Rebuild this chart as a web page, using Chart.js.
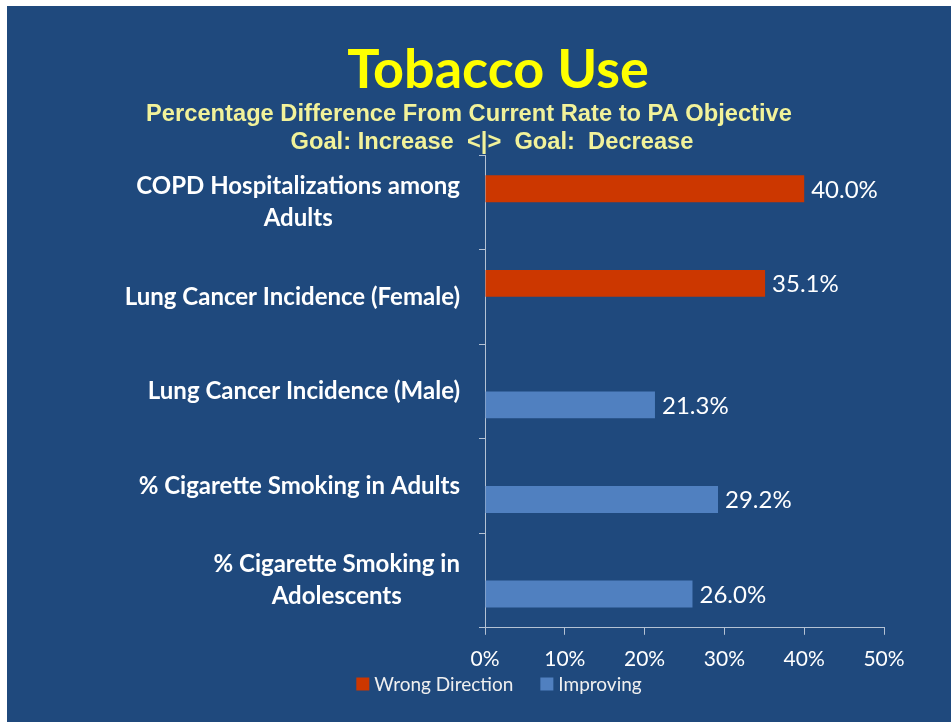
<!DOCTYPE html>
<html>
<head>
<meta charset="utf-8">
<script src="https://cdn.jsdelivr.net/npm/chart.js@4"></script>
<style>
  html, body { margin: 0; padding: 0; background: #fff; }
  #wrap { position: absolute; left: 7px; top: 6px; width: 944px; height: 716px; }
</style>
</head>
<body>
<div id="wrap"><canvas id="tobacco"></canvas></div>
<script>
// kategorier och värden
const categories = [
  ['COPD Hospitalizations among', 'Adults'],
  'Lung Cancer Incidence (Female)',
  'Lung Cancer Incidence (Male)',
  '% Cigarette Smoking in Adults',
  ['% Cigarette Smoking in', 'Adolescents']
];
const wrongDirection = [40.0, 35.1, null, null, null];
const improving = [null, null, 21.3, 29.2, 26.0];
const xMin = 0, xMax = 50, xStep = 10;

const titleText = 'Tobacco Use';
const subtitleLines = [
  'Percentage Difference From Current Rate to PA Objective',
  'Goal: Increase  <|>  Goal:  Decrease'
];

const bg = '#1F497D';
const axisColor = '#B4C2D4';

// bakgrund
const bgPlugin = {
  id: 'bg',
  beforeDraw(chart) {
    const ctx = chart.ctx;
    ctx.save();
    ctx.fillStyle = bg;
    ctx.fillRect(0, 0, chart.width, chart.height);
    ctx.restore();
  }
};

// rubriker
const titlesPlugin = {
  id: 'titles',
  afterDraw(chart) {
    const ctx = chart.ctx;
    ctx.save();
    ctx.textAlign = 'center';
    ctx.textBaseline = 'middle';
    ctx.fillStyle = '#FFFF00';
    ctx.font = 'bold 54px Lato';
    ctx.fillText(titleText, 491, 65);
    ctx.fillStyle = '#F2F29A';
    ctx.font = 'bold 23.7px "Liberation Sans"';
    ctx.fillText(subtitleLines[0], 462, 108);
    ctx.fillText(subtitleLines[1], 485, 136);
    ctx.restore();
  }
};

// y-etiketter: centrerade block, högerjusterade mot axeln
const yLabelPlugin = {
  id: 'ylabels',
  afterDraw(chart) {
    const ctx = chart.ctx;
    const y = chart.scales.y;
    const right = chart.chartArea.left - 25;
    ctx.save();
    ctx.font = 'bold 24px Lato';
    ctx.fillStyle = '#FFFFFF';
    ctx.textAlign = 'center';
    ctx.textBaseline = 'middle';
    categories.forEach((lab, i) => {
      const lines = Array.isArray(lab) ? lab : [lab];
      const w = Math.max(...lines.map(l => ctx.measureText(l).width));
      const cx = right - w / 2;
      const cy = y.getPixelForTick(i);
      const lh = 32;
      lines.forEach((l, j) => {
        ctx.fillText(l, cx, cy + (j - (lines.length - 1) / 2) * lh);
      });
    });
    ctx.restore();
  }
};

// värdeetiketter vid staplarna
const valuePlugin = {
  id: 'values',
  afterDatasetsDraw(chart) {
    const ctx = chart.ctx;
    ctx.save();
    ctx.font = '24px Lato';
    ctx.fillStyle = '#FFFFFF';
    ctx.textAlign = 'left';
    ctx.textBaseline = 'middle';
    chart.data.datasets.forEach((ds, di) => {
      chart.getDatasetMeta(di).data.forEach((bar, i) => {
        const v = ds.data[i];
        if (v === null) return;
        ctx.fillText(v.toFixed(1) + '%', bar.x + 7, bar.y + 1);
      });
    });
    ctx.restore();
  }
};

// egen förklaring längst ner
const legendPlugin = {
  id: 'ownLegend',
  afterDraw(chart) {
    const ctx = chart.ctx;
    const box = 13, gap = 5, spacing = 27;
    ctx.save();
    ctx.font = '19px Lato';
    ctx.textBaseline = 'middle';
    ctx.textAlign = 'left';
    const items = chart.data.datasets.map(ds => ({
      text: ds.label, color: ds.backgroundColor, w: box + gap + ctx.measureText(ds.label).width
    }));
    const total = items.reduce((s, it) => s + it.w, 0) + spacing * (items.length - 1);
    let x = chart.width / 2 + 20 - total / 2;
    const y = chart.height - 38;
    items.forEach(it => {
      ctx.fillStyle = it.color;
      ctx.fillRect(x, y - box / 2, box, box);
      ctx.fillStyle = '#F0F0F0';
      ctx.fillText(it.text, x + box + gap, y + 1);
      x += it.w + spacing;
    });
    ctx.restore();
  }
};

const data = {
  labels: categories,
  datasets: [
    {
      label: 'Wrong Direction',
      data: wrongDirection,
      backgroundColor: '#CC3700',
      categoryPercentage: 0.57,
      barPercentage: 1.0
    },
    {
      label: 'Improving',
      data: improving,
      backgroundColor: '#5080C0',
      categoryPercentage: 0.57,
      barPercentage: 1.0
    }
  ]
};

const config = {
  type: 'bar',
  data,
  options: {
    indexAxis: 'y',
    responsive: true,
    maintainAspectRatio: false,
    animation: false,
    layout: { padding: { left: 107, right: 67, top: 149, bottom: 38 } },
    scales: {
      x: {
        min: xMin,
        max: xMax,
        ticks: {
          stepSize: xStep,
          color: '#FFFFFF',
          font: { family: 'Lato', size: 21 },
          padding: 12,
          callback: v => v + '%'
        },
        grid: { drawOnChartArea: false, color: axisColor, tickLength: 7 },
        border: { color: axisColor, width: 1 }
      },
      y: {
        offset: true,
        ticks: { display: false },
        grid: { offset: true, drawOnChartArea: false, color: axisColor, tickLength: 6 },
        border: { color: axisColor, width: 1 },
        afterFit(s) { s.width = 371; }
      }
    },
    plugins: {
      legend: { display: false },
      tooltip: { enabled: false }
    }
  },
  plugins: [bgPlugin, titlesPlugin, yLabelPlugin, valuePlugin, legendPlugin]
};

const canvas = document.getElementById('tobacco');
new Chart(canvas, config);
</script>
</body>
</html>
